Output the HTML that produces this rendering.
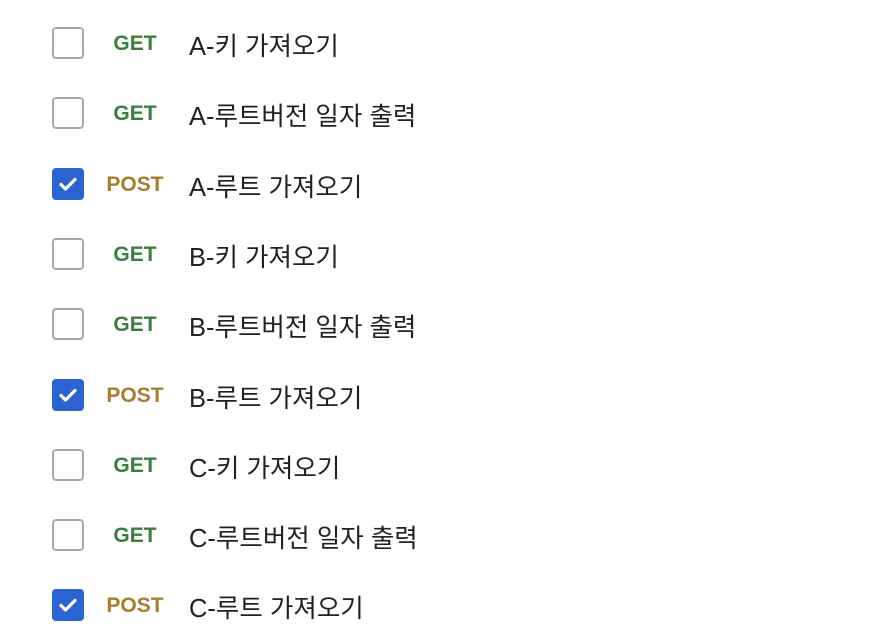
<!DOCTYPE html>
<html><head><meta charset="utf-8"><style>
body{margin:0;width:890px;height:642px;background:#fff;position:relative;overflow:hidden;font-family:"Liberation Sans","Noto Sans CJK KR",sans-serif}
.row{position:absolute;left:0;height:40px;width:890px}
.cb{position:absolute;left:52px;top:4px;width:28px;height:28px;border:2px solid #a8a8a8;border-radius:4px;background:#fff}
.cb.on{background:#2b63d1;border-color:#2b63d1}
.cb svg{position:absolute;left:3px;top:3px}
.m{position:absolute;left:96px;width:78px;text-align:center;top:9px;font-weight:bold;font-size:21px}
.get{color:#3b7e3d}.post{color:#a77d2e}
.t{position:absolute;left:189px;top:3px;font-size:25.5px;color:#222}
</style></head><body>
<script>
const rows=[["GET","A-키 가져오기",0],["GET","A-루트버전 일자 출력",0],["POST","A-루트 가져오기",1],["GET","B-키 가져오기",0],["GET","B-루트버전 일자 출력",0],["POST","B-루트 가져오기",1],["GET","C-키 가져오기",0],["GET","C-루트버전 일자 출력",0],["POST","C-루트 가져오기",1]];
rows.forEach((r,i)=>{
const d=document.createElement('div');d.className='row';d.style.top=(23+i*70.3)+'px';


const c=document.createElement('div');c.className='cb'+(r[2]?' on':'');


if(r[2])c.innerHTML='<svg width="22" height="22" viewBox="0 0 22 22"><path d="M4 11.5l4.5 4.5L18 6.5" fill="none" stroke="#fff" stroke-width="3.2" stroke-linecap="round" stroke-linejoin="round"/></svg>';
const m=document.createElement('div');m.className='m '+r[0].toLowerCase();m.textContent=r[0];


const t=document.createElement('div');t.className='t';t.textContent=r[1];


d.append(c,m,t);document.body.appendChild(d);});
</script>
</body></html>
